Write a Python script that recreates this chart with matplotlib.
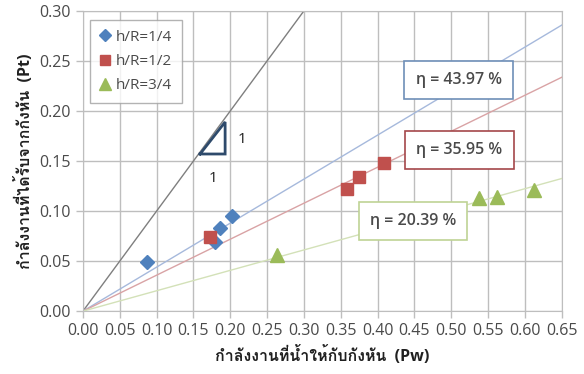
import matplotlib
matplotlib.use("Agg")
import matplotlib.pyplot as plt
import numpy as np
from matplotlib import font_manager
from matplotlib.ft2font import FT2Font

# measured points: water power in (Pw) vs turbine power out (Pt)
pw_quarter = [0.087, 0.179, 0.186, 0.203]
pt_quarter = [0.049, 0.069, 0.083, 0.095]
pw_half = [0.172, 0.358, 0.375, 0.408]
pt_half = [0.074, 0.122, 0.134, 0.148]
pw_three = [0.263, 0.537, 0.562, 0.612]
pt_three = [0.056, 0.113, 0.114, 0.121]

series_names = ["h/R=1/4", "h/R=1/2", "h/R=3/4"]
efficiencies = [43.97, 35.95, 20.39]  # percent, slope of each trend line

x_ticks = np.arange(0, 0.651, 0.05)
y_ticks = np.arange(0, 0.301, 0.05)


def thai_font():
    for f in font_manager.fontManager.ttflist:
        try:
            if 0x0E01 in FT2Font(f.fname).get_charmap():
                return f.name
        except Exception:
            continue
    return None


families = ["Open Sans", "DejaVu Sans"]
th = thai_font()
if th:
    families.insert(1, th)
plt.rcParams["font.family"] = families

fig = plt.figure(figsize=(5.84, 3.74), dpi=100)
ax = fig.add_axes([0.142, 0.168, 0.82, 0.803])

grid_c = "#BEBEBE"
text_c = "#4A4A4A"

xs = np.array([0, 0.65])
# 1:1 reference line
ax.plot([0, 0.30], [0, 0.30], color="#7F7F7F", lw=1.0, zorder=2)
# trend lines through the origin
line_cols = ["#A6B9DC", "#D9A3A5", "#D3E1B8"]
for eff, lc in zip(efficiencies, line_cols):
    ax.plot(xs, xs * eff / 100, color=lc, lw=1.0, zorder=2)

ax.plot(pw_quarter, pt_quarter, "D", color="#4F81BD", ms=7.5, ls="none",
        label=series_names[0], zorder=3)
ax.plot(pw_half, pt_half, "s", color="#C0504D", ms=9, ls="none",
        label=series_names[1], zorder=4)
ax.plot(pw_three, pt_three, "^", color="#9BBB59", ms=10, ls="none",
        label=series_names[2], zorder=3)

# slope triangle
tri_x = [0.159, 0.193, 0.193, 0.159]
tri_y = [0.157, 0.157, 0.189, 0.157]
ax.plot(tri_x, tri_y, color="#2E4A6B", lw=2, zorder=5, solid_joinstyle="miter")
ax.text(0.216, 0.171, "1", fontsize=11, color="#202020", ha="center", va="center")
ax.text(0.176, 0.133, "1", fontsize=11, color="#202020", ha="center", va="center")

# efficiency callouts
box_pos = [(0.510, 0.231), (0.511, 0.161), (0.448, 0.090)]
box_edges = ["#6E8FB8", "#A4474A", "#BFD395"]
for eff, (bx, by), ec in zip(efficiencies, box_pos, box_edges):
    ax.text(bx, by, "\u03b7 = %.2f %%" % eff, fontsize=11.5, color=text_c,
            fontweight="semibold", ha="center", va="center", zorder=6,
            bbox=dict(boxstyle="square,pad=0.7", fc="white", ec=ec, lw=1.2))

ax.set_xlim(0, 0.65)
ax.set_ylim(0, 0.30)
ax.set_xticks(x_ticks)
ax.set_yticks(y_ticks)
ax.set_xticklabels(["%.2f" % v for v in x_ticks])
ax.set_yticklabels(["%.2f" % v for v in y_ticks])
ax.tick_params(colors=grid_c, labelcolor=text_c, labelsize=11.5, length=5, width=1)
ax.grid(True, color=grid_c, lw=1)
ax.set_axisbelow(True)
for s in ax.spines.values():
    s.set_color(grid_c)

ax.set_xlabel("กำลังงานที่น้ำให้กับกังหัน  (Pw)", fontsize=11.5, fontweight="bold",
              color="#202020", labelpad=5)
ax.set_ylabel("กำลังงานที่ได้รับจากกังหัน  (Pt)", fontsize=11.5, fontweight="bold",
              color="#202020", labelpad=4)

leg = ax.legend(loc="upper left", bbox_to_anchor=(0.015, 0.97), borderaxespad=0,
                fontsize=11, frameon=True, fancybox=False, handlelength=0.6,
                handletextpad=0.4, labelspacing=0.6, borderpad=0.65,
                markerscale=0.8)
leg.get_frame().set_edgecolor("#A0A0A0")
leg.get_frame().set_linewidth(1)
for t in leg.get_texts():
    t.set_color(text_c)

fig.savefig("out.png", dpi=100)
